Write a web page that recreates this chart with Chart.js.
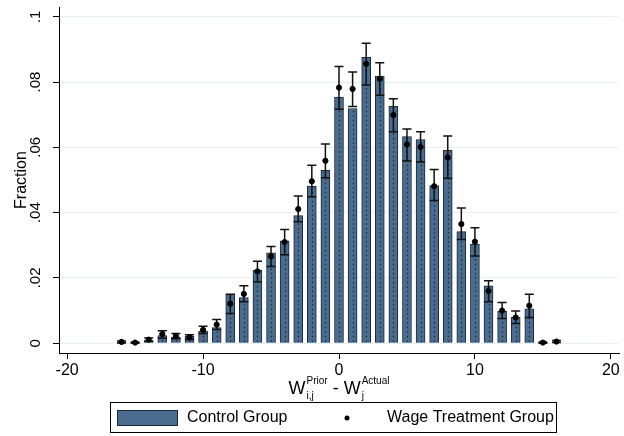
<!DOCTYPE html>
<html>
<head>
<meta charset="utf-8">
<script src="https://cdn.jsdelivr.net/npm/chart.js@4/dist/chart.umd.min.js"></script>
<style>
  html, body { margin: 0; padding: 0; background: #fff; }
  #wrap { width: 624px; height: 436px; }
</style>
</head>
<body>
<div id="wrap"><canvas id="chart"></canvas></div>
<script>
// wage gap bins (x) and fractions
const bins = [-16, -15, -14, -13, -12, -11, -10, -9, -8, -7, -6, -5, -4, -3, -2, -1,
              0, 1, 2, 3, 4, 5, 6, 7, 8, 9, 10, 11, 12, 13, 14, 15, 16];
const controlVals = [0.0003, 0.0001, 0.0008, 0.0023, 0.0019, 0.0022, 0.0037, 0.0048, 0.0150, 0.0140,
                     0.0223, 0.0277, 0.0314, 0.0391, 0.0481, 0.0530, 0.0754, 0.0719, 0.0876, 0.0818,
                     0.0726, 0.0633, 0.0624, 0.0483, 0.0591, 0.0342, 0.0304, 0.0176, 0.0098, 0.0079,
                     0.0105, 0, 0];
const treatVals = [0.0004, 0.0002, 0.0011, 0.0028, 0.0022, 0.0018, 0.0041, 0.0057, 0.0121, 0.0151,
                   0.0220, 0.0266, 0.0310, 0.0411, 0.0496, 0.0559, 0.0783, 0.0779, 0.0856, 0.0810,
                   0.0699, 0.0609, 0.0601, 0.0481, 0.0569, 0.0365, 0.0311, 0.0160, 0.0100, 0.0079,
                   0.0115, 0.0002, 0.0005];
const treatLow = [0.0001, 0, 0.0006, 0.0015, 0.0014, 0.0011, 0.0030, 0.0042, 0.0091, 0.0127,
                  0.0188, 0.0235, 0.0271, 0.0372, 0.0449, 0.0507, 0.0717, 0.0725, 0.0791, 0.0760,
                  0.0648, 0.0558, 0.0555, 0.0437, 0.0505, 0.0318, 0.0267, 0.0127, 0.0076, 0.0060,
                  0.0079, 0, 0.0002];
const treatHigh = [0.0007, 0.0004, 0.0016, 0.0038, 0.0030, 0.0026, 0.0052, 0.0073, 0.0150, 0.0176,
                   0.0251, 0.0296, 0.0348, 0.0451, 0.0545, 0.0610, 0.0848, 0.0831, 0.0919, 0.0859,
                   0.0749, 0.0656, 0.0648, 0.0532, 0.0635, 0.0414, 0.0354, 0.0191, 0.0125, 0.0099,
                   0.0150, 0.0004, 0.0008];
const xTicks = [-20, -10, 0, 10, 20];
const yTicks = [0, 0.02, 0.04, 0.06, 0.08, 0.1];
const yTickLabels = ['0', '.02', '.04', '.06', '.08', '.1'];
const seriesNames = ['Control Group', 'Wage Treatment Group'];

const FONT = '"Liberation Sans", Arial, sans-serif';
const BAR_FILL = '#4a6d8f';
const BAR_EDGE = '#1b2838';

// dotted centre line in each bar + error caps for the treatment group
const overlayPlugin = {
    id: 'overlay',
    afterDatasetDraw(chart, args) {
        if (args.index !== 0) return;
        const ctx = chart.ctx;
        const xs = chart.scales.x, ys = chart.scales.y;
        const meta = chart.getDatasetMeta(0);
        ctx.save();
        ctx.strokeStyle = '#1b2838';
        ctx.lineWidth = 1.2;
        ctx.setLineDash([1.5, 3]);
        meta.data.forEach(bar => {
            if (bar.base - bar.y < 4) return;
            ctx.beginPath();
            ctx.moveTo(Math.round(bar.x) + 0.5, bar.base - 1);
            ctx.lineTo(Math.round(bar.x) + 0.5, bar.y + 1);
            ctx.stroke();
        });
        ctx.setLineDash([]);
        ctx.strokeStyle = '#111';
        ctx.lineWidth = 1.5;
        bins.forEach((b, i) => {
            const px = xs.getPixelForValue(b);
            const lo = ys.getPixelForValue(treatLow[i]);
            const hi = ys.getPixelForValue(treatHigh[i]);
            ctx.beginPath();
            ctx.moveTo(px, lo); ctx.lineTo(px, hi);
            ctx.moveTo(px - 4.5, lo); ctx.lineTo(px + 4.5, lo);
            ctx.moveTo(px - 4.5, hi); ctx.lineTo(px + 4.5, hi);
            ctx.stroke();
        });
        ctx.restore();
    },
    afterDraw(chart) {
        const ctx = chart.ctx;
        const ys = chart.scales.y;
        ctx.save();
        ctx.fillStyle = '#000';
        // rotated y tick labels
        ctx.font = '15px ' + FONT;
        ctx.textAlign = 'center';
        ctx.textBaseline = 'middle';
        yTicks.forEach((v, i) => {
            ctx.save();
            ctx.translate(36, ys.getPixelForValue(v));
            ctx.rotate(-Math.PI / 2);
            ctx.fillText(yTickLabels[i], 0, 0);
            ctx.restore();
        });
        // x title: W_{i,j}^{Prior} - W_j^{Actual}
        ctx.textAlign = 'left';
        ctx.textBaseline = 'alphabetic';
        const m = (t, s) => { ctx.font = s + 'px ' + FONT; return ctx.measureText(t).width; };
        const total = m('W', 18) + Math.max(m('i,j', 10), m('Prior', 10)) + m(' - W', 18) +
                      Math.max(m('j', 10), m('Actual', 10)) + 2;
        let x = (chart.chartArea.left + chart.chartArea.right) / 2 - total / 2;
        const base = 394;
        ctx.font = '18px ' + FONT; ctx.fillText('W', x, base); x += m('W', 18) + 1;
        ctx.font = '10px ' + FONT; ctx.fillText('i,j', x, base + 5); ctx.fillText('Prior', x, base - 10);
        x += Math.max(m('i,j', 10), m('Prior', 10));
        ctx.font = '18px ' + FONT; ctx.fillText(' - W', x, base); x += m(' - W', 18) + 1;
        ctx.font = '10px ' + FONT; ctx.fillText('j', x, base + 5); ctx.fillText('Actual', x, base - 10);
        // legend
        ctx.strokeStyle = '#000';
        ctx.lineWidth = 1;
        ctx.strokeRect(110.5, 402.5, 446, 30);
        ctx.fillStyle = BAR_FILL;
        ctx.fillRect(117, 410, 60, 15);
        ctx.strokeStyle = BAR_EDGE;
        ctx.strokeRect(117.5, 410.5, 60, 15);
        ctx.fillStyle = '#000';
        ctx.font = '16px ' + FONT;
        ctx.textBaseline = 'middle';
        ctx.fillText(seriesNames[0], 187, 418);
        ctx.beginPath();
        ctx.arc(347, 418, 2.5, 0, Math.PI * 2);
        ctx.fill();
        ctx.fillText(seriesNames[1], 387, 418);
        ctx.restore();
    }
};

new Chart(document.getElementById('chart'), {
    data: {
        datasets: [{
            type: 'bar',
            label: seriesNames[0],
            data: bins.map((b, i) => ({ x: b, y: controlVals[i] })),
            backgroundColor: BAR_FILL,
            borderColor: BAR_EDGE,
            borderWidth: 1,
            barThickness: 9,
            order: 2
        }, {
            type: 'scatter',
            label: seriesNames[1],
            data: bins.map((b, i) => ({ x: b, y: treatVals[i] })),
            backgroundColor: '#000',
            borderColor: '#000',
            pointRadius: 2.6,
            order: 1
        }]
    },
    options: {
        responsive: true,
        maintainAspectRatio: false,
        animation: false,
        layout: { padding: { top: 7, right: 4, left: 0, bottom: 0 } },
        plugins: { legend: { display: false }, tooltip: { enabled: false } },
        scales: {
            x: {
                type: 'linear',
                offset: false,
                min: -20.6,
                max: 20.6,
                afterBuildTicks: s => { s.ticks = xTicks.map(v => ({ value: v })); },
                afterFit: s => { s.height = 83; },
                grid: { display: true, offset: false, drawOnChartArea: false, tickLength: 6, tickColor: '#000' },
                border: { color: '#000', width: 1 },
                ticks: { color: '#000', font: { size: 16, family: FONT }, padding: 2, maxRotation: 0 }
            },
            y: {
                min: -0.003,
                max: 0.103,
                afterBuildTicks: s => { s.ticks = yTicks.map(v => ({ value: v })); },
                afterFit: s => { s.width = 59; },
                grid: { color: '#e8f0f2', tickLength: 6, tickColor: '#000' },
                border: { color: '#000', width: 1 },
                ticks: { display: false },
                title: { display: true, text: 'Fraction', color: '#000', font: { size: 16, family: FONT }, padding: { top: 12 } }
            }
        }
    },
    plugins: [overlayPlugin]
});
</script>
</body>
</html>
